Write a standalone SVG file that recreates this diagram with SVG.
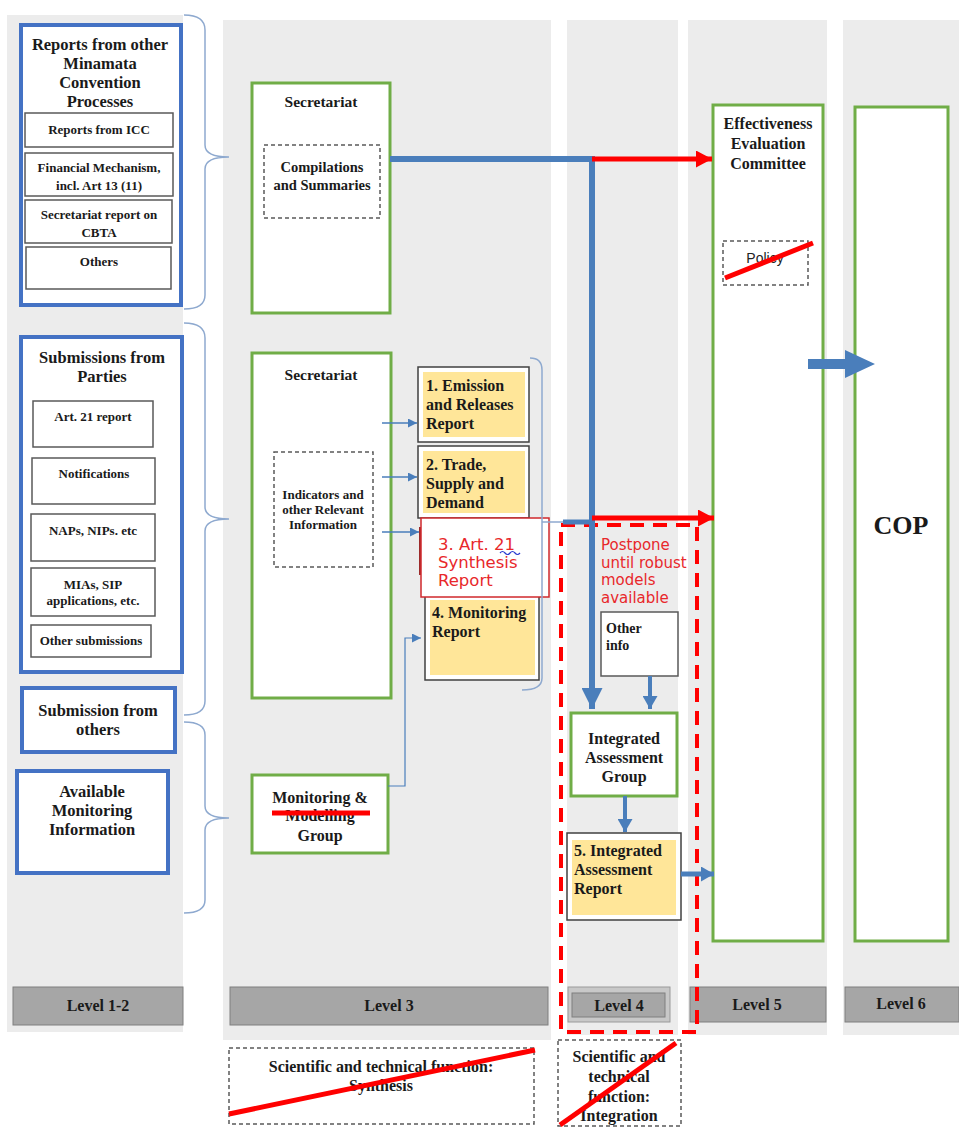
<svg xmlns="http://www.w3.org/2000/svg" width="959" height="1131" viewBox="0 0 959 1131">
<style>
.col{fill:#ececec}
.bluebox{fill:#fff;stroke:#4472c4;stroke-width:4}
.sub{fill:#fff;stroke:#595959;stroke-width:1.5}
.green{fill:#fff;stroke:#70ad47;stroke-width:3}
.dash{fill:#fff;stroke:#595959;stroke-width:1.5;stroke-dasharray:4 3}
.rep{fill:#fff;stroke:#404040;stroke-width:1.5}
.yel{fill:#ffe699}
.lvl{fill:#a6a6a6;stroke:#7f7f7f;stroke-width:1}
.t{font-family:"Liberation Serif","Times New Roman",serif;font-weight:bold;fill:#1a1a1a}
.c{text-anchor:middle}
.f16{font-size:16px}
.f15{font-size:15px}
.f14{font-size:14px}
.f13{font-size:13px}
.red{font-family:"DejaVu Sans",Verdana,sans-serif;fill:#e8282b}
.brace{fill:none;stroke:#8ea9cf;stroke-width:1.5}
.bl{stroke:#4a7ebb;fill:none}
.rl{stroke:#ff0000;fill:none}
.strike{stroke:#ff0000;stroke-width:5;fill:none}
</style>
<defs>
<marker id="bs" markerUnits="userSpaceOnUse" markerWidth="9" markerHeight="9" refX="9" refY="4.5" orient="auto"><path d="M0,0 L9,4.5 L0,9z" fill="#4a7ebb"/></marker>
<marker id="bm" markerUnits="userSpaceOnUse" markerWidth="13" markerHeight="15" refX="13" refY="7.5" orient="auto"><path d="M0,0 L13,7.5 L0,15z" fill="#4a7ebb"/></marker>
<marker id="bL" markerUnits="userSpaceOnUse" markerWidth="21" markerHeight="21" refX="21" refY="10.5" orient="auto"><path d="M0,0 L21,10.5 L0,21z" fill="#4a7ebb"/></marker>
<marker id="rm" markerUnits="userSpaceOnUse" markerWidth="16" markerHeight="17" refX="16" refY="8.5" orient="auto"><path d="M0,0 L16,8.5 L0,17z" fill="#ff0000"/></marker>
</defs>
<rect width="959" height="1131" fill="#fff"/>

<!-- column backgrounds -->
<g id="columns">
<rect class="col" x="7" y="15" width="176" height="1017"/>
<rect class="col" x="223" y="20" width="328" height="1020"/>
<rect class="col" x="567" y="20" width="111" height="1015"/>
<rect class="col" x="688" y="20" width="139" height="1015"/>
<rect class="col" x="843" y="20" width="116" height="1015"/>
</g>

<!-- level labels -->
<g id="level12"><rect class="lvl" x="13" y="987" width="170" height="38"/><text class="t c f16" x="98" y="1011">Level 1-2</text></g>
<g id="level3"><rect class="lvl" x="230" y="987" width="318" height="38"/><text class="t c f16" x="389" y="1011">Level 3</text></g>
<g id="level4"><rect x="568" y="987" width="102" height="35" fill="#c8c8c8" stroke="#9a9a9a"/><rect class="lvl" x="572" y="993" width="93" height="24" stroke="none"/><text class="t c f16" x="619" y="1011">Level 4</text></g>
<g id="level5"><rect class="lvl" x="690" y="987" width="136" height="35"/><text class="t c f16" x="757" y="1010">Level 5</text></g>
<g id="level6"><rect class="lvl" x="845" y="987" width="114" height="35"/><text class="t c f16" x="901" y="1009">Level 6</text></g>

<!-- Left column -->
<g id="reports-other">
<rect class="bluebox" x="21" y="25" width="160" height="280"/>
<text class="t c" font-size="16.5" x="100" y="50">Reports from other</text>
<text class="t c" font-size="16.5" x="100" y="69">Minamata</text>
<text class="t c" font-size="16.5" x="100" y="88">Convention</text>
<text class="t c" font-size="16.5" x="100" y="107">Processes</text>
<rect class="sub" x="25" y="113" width="148" height="34"/>
<text class="t c f13" x="99" y="134">Reports from ICC</text>
<rect class="sub" x="25" y="153" width="148" height="43"/>
<text class="t c f13" x="99" y="172">Financial Mechanism,</text>
<text class="t c f13" x="99" y="190">incl. Art 13 (11)</text>
<rect class="sub" x="25" y="200" width="147" height="43"/>
<text class="t c f13" x="99" y="219">Secretariat report on</text>
<text class="t c f13" x="99" y="237">CBTA</text>
<rect class="sub" x="26" y="247" width="145" height="42"/>
<text class="t c f13" x="99" y="266">Others</text>
</g>

<g id="submissions-parties">
<rect class="bluebox" x="21" y="337" width="161" height="335"/>
<text class="t c" font-size="16.5" x="102" y="363">Submissions from</text>
<text class="t c" font-size="16.5" x="102" y="382">Parties</text>
<rect class="sub" x="33" y="401" width="120" height="46"/>
<text class="t c f13" x="93" y="421">Art. 21 report</text>
<rect class="sub" x="32" y="458" width="123" height="46"/>
<text class="t c f13" x="94" y="478">Notifications</text>
<rect class="sub" x="31" y="514" width="124" height="47"/>
<text class="t c f13" x="93" y="535">NAPs, NIPs. etc</text>
<rect class="sub" x="31" y="568" width="124" height="48"/>
<text class="t c f13" x="93" y="589">MIAs, SIP</text>
<text class="t c f13" x="93" y="605">applications, etc.</text>
<rect class="sub" x="31" y="625" width="120" height="32"/>
<text class="t c f13" x="91" y="645">Other submissions</text>
</g>

<g id="submission-others">
<rect class="bluebox" x="22" y="688" width="153" height="64"/>
<text class="t c" font-size="16.5" x="98" y="716">Submission from</text>
<text class="t c" font-size="16.5" x="98" y="735">others</text>
</g>

<g id="monitoring-info">
<rect class="bluebox" x="17" y="771" width="151" height="102"/>
<text class="t c" font-size="16.5" x="92" y="797">Available</text>
<text class="t c" font-size="16.5" x="92" y="816">Monitoring</text>
<text class="t c" font-size="16.5" x="92" y="835">Information</text>
</g>

<!-- Level 3 -->
<g id="secretariat-1">
<rect class="green" x="252" y="83" width="138" height="230"/>
<text class="t c" font-size="15.5" x="321" y="107">Secretariat</text>
<rect class="dash" x="264" y="145" width="116" height="73"/>
<text class="t c" font-size="14.5" x="322" y="172">Compilations</text>
<text class="t c" font-size="14.5" x="322" y="190">and Summaries</text>
</g>

<g id="secretariat-2">
<rect class="green" x="252" y="353" width="139" height="345"/>
<text class="t c" font-size="15.5" x="321" y="380">Secretariat</text>
<rect class="dash" x="274" y="452" width="99" height="115"/>
<text class="t c f13" x="323" y="499">Indicators and</text>
<text class="t c f13" x="323" y="514">other Relevant</text>
<text class="t c f13" x="323" y="529">Information</text>
</g>

<g id="report-1">
<rect class="rep" x="418" y="367" width="111" height="75"/>
<rect class="yel" x="423" y="372" width="102" height="65"/>
<text class="t f16" x="426" y="391">1. Emission</text>
<text class="t f16" x="426" y="410">and Releases</text>
<text class="t f16" x="426" y="429">Report</text>
</g>

<g id="report-2">
<rect class="rep" x="418" y="446" width="111" height="72"/>
<rect class="yel" x="423" y="451" width="102" height="62"/>
<text class="t f16" x="426" y="470">2. Trade,</text>
<text class="t f16" x="426" y="489">Supply and</text>
<text class="t f16" x="426" y="508">Demand</text>
</g>

<g id="report-4">
<rect class="rep" x="425" y="595" width="114" height="85"/>
<rect class="yel" x="430" y="600" width="105" height="75"/>
<text class="t f16" x="432" y="618">4. Monitoring</text>
<text class="t f16" x="432" y="637">Report</text>
</g>

<g id="report-3">
<line x1="420" y1="527" x2="420" y2="575" stroke="#9c2a2a" stroke-width="2"/>
<rect x="421" y="518" width="128" height="79" fill="#fff" stroke="#d0282c" stroke-width="1.5"/>
<text class="red" font-size="16.5" x="438" y="550">3. Art. 21</text>
<path d="M500,553 q2.5,-3 5,0 t5,0 t5,0 t5,0" fill="none" stroke="#2a3bd0" stroke-width="1.2"/>
<text class="red" font-size="16.5" x="438" y="568">Synthesis</text>
<text class="red" font-size="16.5" x="438" y="586">Report</text>
</g>

<g id="monitoring-group">
<rect class="green" x="252" y="775" width="136" height="78"/>
<text class="t c f16" x="320" y="803">Monitoring &amp;</text>
<text class="t c f16" x="320" y="821">Modelling</text>
<text class="t c f16" x="320" y="841">Group</text>
<line class="strike" x1="272" y1="813" x2="370" y2="813"/>
</g>

<!-- Level 4 -->
<g id="postpone">
<rect x="561" y="525" width="136" height="507" fill="none" stroke="#ff0000" stroke-width="4" stroke-dasharray="14 9"/>
<text class="red" font-size="15" x="601" y="550">Postpone</text>
<text class="red" font-size="15" x="601" y="568">until robust</text>
<text class="red" font-size="15" x="601" y="585">models</text>
<text class="red" font-size="15" x="601" y="603">available</text>
</g>

<g id="other-info">
<rect class="sub" x="601" y="612" width="77" height="64"/>
<text class="t f14" x="606" y="633">Other</text>
<text class="t f14" x="606" y="650">info</text>
</g>

<g id="integrated-group">
<rect class="green" x="571" y="713" width="106" height="83"/>
<text class="t c f16" x="624" y="744">Integrated</text>
<text class="t c f16" x="624" y="763">Assessment</text>
<text class="t c f16" x="624" y="782">Group</text>
</g>

<g id="report-5">
<rect class="rep" x="567" y="833" width="114" height="87"/>
<rect class="yel" x="572" y="840" width="104" height="75"/>
<text class="t f16" x="574" y="856">5. Integrated</text>
<text class="t f16" x="574" y="875">Assessment</text>
<text class="t f16" x="574" y="894">Report</text>
</g>

<!-- Level 5 / 6 -->
<g id="eec">
<rect class="green" x="713" y="105" width="110" height="836"/>
<text class="t c f16" x="768" y="129">Effectiveness</text>
<text class="t c f16" x="768" y="149">Evaluation</text>
<text class="t c f16" x="768" y="169">Committee</text>
<rect class="dash" x="723" y="241" width="85" height="44"/>
<text x="765" y="263" font-family="Liberation Sans,Arial,sans-serif" font-size="14" fill="#222" text-anchor="middle">Policy</text>
<line class="strike" x1="725" y1="278" x2="813" y2="243"/>
</g>

<g id="cop">
<rect class="green" x="855" y="107" width="93" height="834"/>
<text class="t c" font-size="26" x="901" y="534">COP</text>
</g>

<!-- bottom notes -->
<g id="synthesis-note">
<rect class="dash" x="229" y="1048" width="305" height="76"/>
<text class="t c f16" x="381" y="1072">Scientific and technical function:</text>
<text class="t c f16" x="381" y="1091">Synthesis</text>
<line class="strike" x1="229" y1="1114" x2="535" y2="1050"/>
</g>
<g id="integration-note">
<rect class="dash" x="558" y="1040" width="123" height="86"/>
<text class="t c f16" x="619" y="1062">Scientific and</text>
<text class="t c f16" x="619" y="1082">technical</text>
<text class="t c f16" x="619" y="1102">function:</text>
<text class="t c f16" x="619" y="1121">Integration</text>
<line class="strike" x1="560" y1="1125" x2="676" y2="1043"/>
</g>

<!-- connectors -->
<g id="connectors">
<path class="brace" d="M184,15 Q205,15 205,30 L205,145 Q205,157 229,157 Q205,157 205,169 L205,295 Q205,309 184,309"/>
<path class="brace" d="M184,323 Q205,323 205,338 L205,507 Q205,519 229,519 Q205,519 205,531 L205,701 Q205,715 184,715"/>
<path class="brace" d="M184,722 Q205,722 205,735 L205,806 Q205,818 229,818 Q205,818 205,830 L205,900 Q205,913 184,913"/>
<path class="brace" d="M530,358 Q542,358 542,370 L542,678 Q542,690 522,690"/>
<line class="brace" x1="542" y1="522" x2="564" y2="522"/>

<line class="bl" stroke-width="6" x1="390" y1="159" x2="595" y2="159"/>
<line class="bl" stroke-width="6" x1="592" y1="156" x2="592" y2="709" marker-end="url(#bL)"/>
<line class="bl" stroke-width="5" x1="563" y1="522" x2="592" y2="522"/>
<line class="rl" stroke-width="5" x1="592" y1="159" x2="712" y2="159" marker-end="url(#rm)"/>
<line class="rl" stroke-width="5" x1="592" y1="518" x2="714" y2="518" marker-end="url(#rm)"/>

<line class="bl" stroke-width="1.5" x1="382" y1="423" x2="417" y2="423" marker-end="url(#bs)"/>
<line class="bl" stroke-width="1.5" x1="382" y1="477" x2="417" y2="477" marker-end="url(#bs)"/>
<line class="bl" stroke-width="1.5" x1="382" y1="532" x2="419" y2="532" marker-end="url(#bs)"/>
<path class="bl" stroke-width="1.2" d="M388,786 L405,786 L405,638 L421,638" marker-end="url(#bs)"/>

<line class="bl" stroke-width="4" x1="650" y1="676" x2="650" y2="709" marker-end="url(#bm)"/>
<line class="bl" stroke-width="4" x1="625" y1="796" x2="625" y2="832" marker-end="url(#bm)"/>
<line class="bl" stroke-width="5" x1="681" y1="874" x2="714" y2="874" marker-end="url(#bm)"/>
<polygon fill="#4a7ebb" points="808,359 845,359 845,350 875,364 845,378 845,369 808,369"/>
</g>
</svg>
